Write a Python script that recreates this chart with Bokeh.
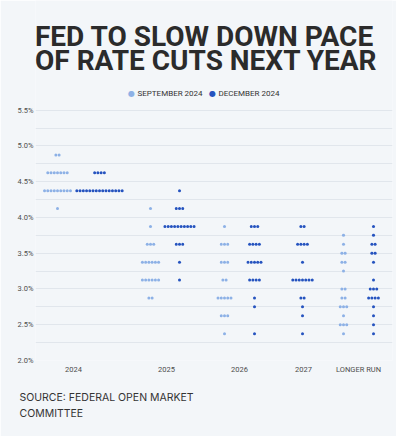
import numpy as np
from bokeh.plotting import figure
from bokeh.models import Range1d, FixedTicker, Label, Title, ColumnDataSource, CustomJSTickFormatter
from bokeh.embed import file_html
from bokeh.resources import INLINE

# ---------------- data ----------------
categories = ["2024", "2025", "2026", "2027", "LONGER RUN"]

# September 2024 projections: rate levels (%) and number of participants
sep_2024_rates = [4.875, 4.625, 4.375, 4.125]
sep_2024_counts = [2, 7, 9, 1]
sep_2025_rates = [4.125, 3.875, 3.625, 3.375, 3.125, 2.875]
sep_2025_counts = [1, 1, 3, 6, 6, 2]
sep_2026_rates = [3.875, 3.625, 3.375, 3.125, 2.875, 2.625, 2.375]
sep_2026_counts = [1, 3, 3, 2, 5, 3, 1]
sep_2027_rates = []
sep_2027_counts = []
sep_lr_rates = [3.75, 3.625, 3.5, 3.375, 3.25, 3.0, 2.875, 2.75, 2.625, 2.5, 2.375]
sep_lr_counts = [1, 1, 2, 2, 1, 2, 2, 3, 1, 3, 1]

# December 2024 projections
dec_2024_rates = [4.625, 4.375]
dec_2024_counts = [4, 15]
dec_2025_rates = [4.375, 4.125, 3.875, 3.625, 3.375, 3.125]
dec_2025_counts = [1, 3, 10, 3, 1, 1]
dec_2026_rates = [3.875, 3.625, 3.375, 3.125, 2.875, 2.75, 2.375]
dec_2026_counts = [3, 4, 5, 4, 1, 1, 1]
dec_2027_rates = [3.875, 3.625, 3.375, 3.125, 2.875, 2.75, 2.625, 2.375]
dec_2027_counts = [2, 4, 1, 7, 2, 1, 1, 1]
dec_lr_rates = [3.875, 3.75, 3.625, 3.5, 3.375, 3.125, 3.0, 2.875, 2.75, 2.625, 2.5, 2.375]
dec_lr_counts = [1, 1, 2, 2, 1, 1, 3, 4, 1, 1, 1, 1]

sep_rates = [sep_2024_rates, sep_2025_rates, sep_2026_rates, sep_2027_rates, sep_lr_rates]
sep_counts = [sep_2024_counts, sep_2025_counts, sep_2026_counts, sep_2027_counts, sep_lr_counts]
dec_rates = [dec_2024_rates, dec_2025_rates, dec_2026_rates, dec_2027_rates, dec_lr_rates]
dec_counts = [dec_2024_counts, dec_2025_counts, dec_2026_counts, dec_2027_counts, dec_lr_counts]

# ---------------- layout ----------------
W, H = 396, 436
FL, FR = 35, 392            # frame left / right (page px)
FT, FB = 0, 361             # frame top / bottom (page px) - top of frame holds title & legend
Y0, Y1 = 2.0, 5.5           # rate axis range shown by ticks
PX_PER_PCT = (361 - 110) / (Y1 - Y0)
Y_TOP = Y1 + (110 - FT) / PX_PER_PCT

label_x = [73, 166, 239, 303, 358]
sep_col_x = [57, 150, 224, 0, 343]
dec_col_x = [99, 179, 254, 302, 373]
DOT_STEP = 3.24

LIGHT = "#8DB1E6"
DARK = "#2553BF"
BG = "#F3F6F9"


def py(px_y):
    """page-pixel y -> y data units (for annotation placement)"""
    return Y1 - (px_y - 110) / PX_PER_PCT


def dots(col_x, rates_list, counts_list):
    xs, ys = [], []
    for cx, rates, counts in zip(col_x, rates_list, counts_list):
        for r, n in zip(rates, counts):
            for i in range(n):
                xs.append(cx + (i - (n - 1) / 2.0) * DOT_STEP)
                ys.append(r)
    return ColumnDataSource(dict(x=xs, y=ys))


p = figure(width=W, height=H,
           min_border_left=FL, min_border_right=W - FR, min_border_top=FT,
           min_border_bottom=H - FB,
           x_range=Range1d(FL, FR), y_range=Range1d(Y0, Y_TOP),
           output_backend="svg", toolbar_location=None,
           background_fill_color=BG, border_fill_color=BG, outline_line_color=None)

p.scatter("x", "y", source=dots(sep_col_x, sep_rates, sep_counts), size=3, fill_color=LIGHT, line_color=None)
p.scatter("x", "y", source=dots(dec_col_x, dec_rates, dec_counts), size=3, fill_color=DARK, line_color=None)

# axes
grid_ticks = [float(v) for v in np.arange(Y0, Y1 + 0.01, 0.25)]
label_ticks = [float(v) for v in np.arange(Y0, Y1 + 0.01, 0.5)]
p.xgrid.visible = False
p.ygrid.ticker = FixedTicker(ticks=grid_ticks)
p.ygrid.grid_line_color = "#E1E6EC"
p.ygrid.grid_line_width = 1

p.yaxis.ticker = FixedTicker(ticks=label_ticks)
p.yaxis.formatter = CustomJSTickFormatter(code="return tick.toFixed(1) + '%';")
p.xaxis.ticker = FixedTicker(ticks=label_x)
p.xaxis.major_label_overrides = {x: c for x, c in zip(label_x, categories)}
for ax in (p.xaxis, p.yaxis):
    ax.axis_line_color = None
    ax.major_tick_line_color = None
    ax.minor_tick_line_color = None
    ax.major_tick_out = 0
    ax.major_tick_in = 0
    ax.major_label_text_font = "Roboto"
    ax.major_label_text_font_size = "7.5px"
    ax.major_label_text_color = "#4d4d4d"
p.yaxis.major_label_standoff = 2
p.xaxis.major_label_standoff = 4

# title (inside the upper, empty part of the frame)
for txt, yb in (("FED TO SLOW DOWN PACE", 36.5), ("OF RATE CUTS NEXT YEAR", 60.5)):
    p.add_layout(Label(x=34.5, y=py(yb), text=txt, text_font="Roboto",
                       text_font_size="28px", text_font_style="bold", text_color="#2b2b2b",
                       text_baseline="alphabetic"))

# legend
for dx, tx, txt, col in ((131, 137, "SEPTEMBER 2024", LIGHT), (212, 218, "DECEMBER 2024", DARK)):
    p.add_layout(Label(x=dx, y=py(93), text="\u25CF", text_font="DejaVu Sans",
                       text_font_size="8px", text_color=col, text_align="center", text_baseline="middle"))
    p.add_layout(Label(x=tx, y=py(93), text=txt, text_font="Roboto",
                       text_font_size="8px", text_color="#333333", text_baseline="middle"))

# source (below the x axis)
p.add_layout(Title(text="SOURCE: FEDERAL OPEN MARKET\nCOMMITTEE", align="left", offset=19 - FL,
                   vertical_align="top", standoff=28, text_font="Inter", text_font_size="10.5px",
                   text_font_style="normal", text_color="#333333", text_line_height=1.27), "below")

open("out.html", "w").write(file_html(p, INLINE))
